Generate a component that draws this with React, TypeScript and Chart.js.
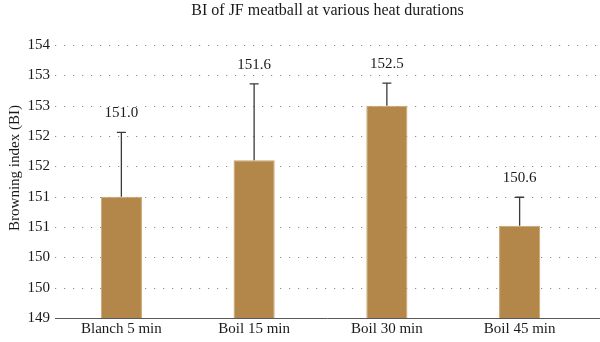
import React, { useEffect, useRef } from "react";
import { Chart, registerables } from "chart.js";

Chart.register(...registerables);

const categories = ["Blanch 5 min", "Boil 15 min", "Boil 30 min", "Boil 45 min"];
const biMeans = [151.0, 151.6, 152.5, 150.52];
const biErrors = [1.06, 1.26, 0.37, 0.47];
const valueLabels = ["151.0", "151.6", "152.5", "150.6"];
const yTickLabels = ["149", "150", "150", "151", "151", "152", "152", "153", "153", "154"];
const chartTitle = "BI of JF meatball at various heat durations";
const yAxisTitle = "Browning index (BI)";

const FONT = "'Liberation Serif', 'DejaVu Serif', serif";

export default function App() {
  const ref = useRef<HTMLCanvasElement | null>(null);

  useEffect(() => {
    document.body.style.margin = "0";
    const canvas = ref.current;
    if (!canvas) return;

    const overlay = {
      id: "overlay",
      beforeDatasetsDraw(chart: any) {
        const { ctx, chartArea } = chart;
        const y = chart.scales.y;
        ctx.save();
        ctx.strokeStyle = "#8a8a8a";
        ctx.lineWidth = 1;
        ctx.setLineDash([1.2, 7.8]);
        y.ticks.forEach((t: any, i: number) => {
          if (i === 0) return;
          const py = Math.round(y.getPixelForValue(t.value)) + 0.5;
          ctx.beginPath();
          ctx.moveTo(chartArea.left, py);
          ctx.lineTo(chart.width, py);
          ctx.stroke();
        });
        ctx.restore();
      },
      afterDatasetsDraw(chart: any) {
        const { ctx, chartArea } = chart;
        const x = chart.scales.x;
        const y = chart.scales.y;
        ctx.save();
        ctx.strokeStyle = "#5a5a5a";
        ctx.lineWidth = 1;
        ctx.beginPath();
        ctx.moveTo(chartArea.left, chartArea.bottom + 0.5);
        ctx.lineTo(chart.width, chartArea.bottom + 0.5);
        ctx.stroke();
        biMeans.forEach((v, i) => {
          const px = x.getPixelForValue(i);
          const top = y.getPixelForValue(v);
          const et = y.getPixelForValue(v + biErrors[i]);
          ctx.strokeStyle = "#3a3a3a";
          ctx.lineWidth = 1.3;
          ctx.beginPath();
          ctx.moveTo(px, top);
          ctx.lineTo(px, et);
          ctx.moveTo(px - 4.5, et);
          ctx.lineTo(px + 4.5, et);
          ctx.stroke();
          ctx.fillStyle = "#1a1a1a";
          ctx.font = `15px ${FONT}`;
          ctx.textAlign = "center";
          ctx.textBaseline = "middle";
          ctx.fillText(valueLabels[i], px, et - 19);
        });
        ctx.restore();
      },
      afterDraw(chart: any) {
        const { ctx, chartArea } = chart;
        ctx.save();
        ctx.fillStyle = "#1a1a1a";
        ctx.font = `16px ${FONT}`;
        ctx.textAlign = "center";
        ctx.textBaseline = "middle";
        ctx.fillText(chartTitle, (chartArea.left + chart.width) / 2, 11);
        ctx.translate(15, 168);
        ctx.rotate(-Math.PI / 2);
        ctx.font = `15px ${FONT}`;
        ctx.fillText(yAxisTitle, 0, 0);
        ctx.restore();
      },
    };

    const chart = new Chart(canvas, {
      type: "bar",
      data: {
        labels: categories,
        datasets: [
          {
            data: biMeans,
            backgroundColor: "#B3874A",
            borderColor: "#C9A36C",
            borderWidth: { left: 1, right: 1, top: 1, bottom: 0 } as any,
            barPercentage: 0.31,
            categoryPercentage: 1,
            base: 149,
          },
        ],
      },
      options: {
        responsive: false,
        animation: false,
        layout: { padding: { left: 0, right: 14, top: 45, bottom: 0 } },
        plugins: {
          legend: { display: false },
          title: { display: false },
          tooltip: { enabled: false },
        },
        scales: {
          x: {
            grid: { display: false, drawTicks: false },
            border: { display: false },
            ticks: {
              color: "#1a1a1a",
              font: { family: FONT, size: 15 },
              padding: 2,
            },
            afterFit(scale: any) {
              scale.height = 24;
            },
          },
          y: {
            min: 149,
            max: 153.5,
            grid: { display: false, drawTicks: false },
            border: { display: false },
            ticks: {
              stepSize: 0.5,
              color: "#1a1a1a",
              font: { family: FONT, size: 15 },
              padding: 5,
              callback: (_v: any, i: number) => yTickLabels[i],
            },
            afterFit(scale: any) {
              scale.width = 55;
            },
          },
        },
      },
      plugins: [overlay],
    });

    return () => chart.destroy();
  }, []);

  return (
    <div style={{ width: 600, height: 342 }}>
      <canvas ref={ref} width={600} height={342} style={{ display: "block" }} />
    </div>
  );
}
